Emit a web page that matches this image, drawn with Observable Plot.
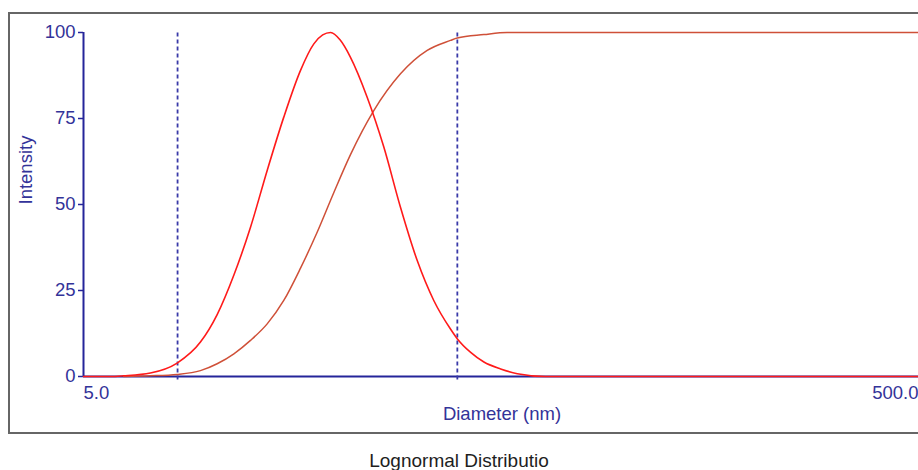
<!DOCTYPE html>
<html>
<head>
<meta charset="utf-8">
<script src="https://cdn.jsdelivr.net/npm/d3@7"></script>
<script src="https://cdn.jsdelivr.net/npm/@observablehq/plot@0.6"></script>
<style>
  html, body { margin: 0; padding: 0; background: #fff; overflow: hidden; }
  #wrap { position: relative; width: 918px; height: 470px; font-family: "Liberation Sans", Arial, sans-serif; }
  #frame { position: absolute; left: 8px; top: 12px; width: 930px; height: 422px; border: 2px solid #666; box-sizing: border-box; }
  #chart { position: absolute; left: 0; top: 0; }
  #title { position: absolute; left: 0; top: 450px; width: 918px; height: 22px; line-height: 22px; text-align: center; font-size: 19px; color: #1e1e1e; }
</style>
</head>
<body>
<div id="wrap">
  <div id="frame"></div>
  <div id="chart"></div>
  <div id="title">Lognormal Distributio</div>
</div>
<script>
// Intensity distribution (red), diameter in nm vs intensity %
const densityDiameter = [5, 5.8, 6.24, 7.23, 8.38, 9.53, 10.45, 11.46, 12.56, 13.77, 15.09, 16.55, 17.81, 18.7, 19.53, 20.6, 21.8, 23.9, 26.2, 28.72, 31.5, 34.51, 37.84, 39.27, 42.3, 45.5, 49.9, 54.7, 63.9, 500];
const densityValue    = [0, 0, 0.2, 1.0, 3.9, 10.0, 18.0, 29.5, 43.4, 59.9, 75.4, 89, 96.7, 99.3, 100, 97.8, 92.8, 81.2, 66.7, 49.2, 33.7, 22.1, 13.8, 11, 7.0, 4.2, 2.2, 0.8, 0, 0];

// Cumulative curve (brown-red)
const cumDiameter = [6.24, 7.23, 8.38, 9.53, 10.45, 11.46, 12.56, 13.77, 15.09, 16.55, 18.15, 19.89, 21.8, 24.79, 28.72, 33.28, 37.84, 39.27, 45.5, 51.7, 500];
const cumValue    = [0, 0.2, 0.6, 1.7, 3.7, 6.6, 10.5, 15.3, 22.1, 31.5, 42.0, 53.5, 64.5, 77.3, 88, 94.8, 97.7, 98.4, 99.4, 100, 100];

// Dashed marker lines (nm)
const markerDiameters = [8.4, 39.3];

// Axes
const yTicks = [0, 25, 50, 75, 100];
const xDomain = [5, 500];
const xTickLabels = ["5.0", "500.0"];

const density = densityDiameter.map((d, i) => ({d, v: densityValue[i]}));
const cumulative = cumDiameter.map((d, i) => ({d, v: cumValue[i]}));

const navy = "#333399";
const axisNavy = "#25259a";

const chart = Plot.plot({
  width: 918,
  height: 445,
  marginLeft: 83,
  marginRight: 0,
  marginTop: 32,
  marginBottom: 69,
  style: {fontFamily: "'Liberation Sans', Arial, sans-serif", fontSize: "18.5px", background: "transparent", overflow: "visible"},
  x: {type: "log", domain: xDomain, axis: null},
  y: {domain: [0, 100], axis: null},
  marks: [
    Plot.ruleY([0], {stroke: axisNavy, strokeWidth: 2}),
    Plot.ruleX([xDomain[0]], {y1: 0, y2: 100, stroke: axisNavy, strokeWidth: 2}),
    Plot.ruleY(yTicks, {x1: xDomain[0], x2: xDomain[0], insetLeft: -5, stroke: axisNavy, strokeWidth: 1.5}),
    Plot.text(yTicks, {x: xDomain[0], y: d => d, text: d => String(d), textAnchor: "end", dx: -8, fill: navy}),
    Plot.ruleX(markerDiameters, {y1: -1, y2: 100, stroke: "#3a3aa8", strokeWidth: 1.8, strokeDasharray: "4,3"}),
    Plot.line(cumulative, {x: "d", y: "v", stroke: "#cf5038", strokeWidth: 1.5, curve: "monotone-x"}),
    Plot.line(density, {x: "d", y: "v", stroke: "#ff1a1a", strokeWidth: 1.6, curve: "monotone-x"}),
    Plot.text([xTickLabels[0]], {x: xDomain[0], y: 0, textAnchor: "start", dy: 17, fill: navy}),
    Plot.text([xTickLabels[1]], {x: xDomain[1], y: 0, textAnchor: "end", dx: 0, dy: 17, fill: navy}),
    Plot.text(["Diameter (nm)"], {frameAnchor: "bottom", dx: 1, dy: 43, fill: navy}),
    Plot.text(["Intensity"], {frameAnchor: "left", dx: -57, rotate: -90, fill: navy})
  ]
});
document.getElementById("chart").appendChild(chart);
</script>
</body>
</html>
